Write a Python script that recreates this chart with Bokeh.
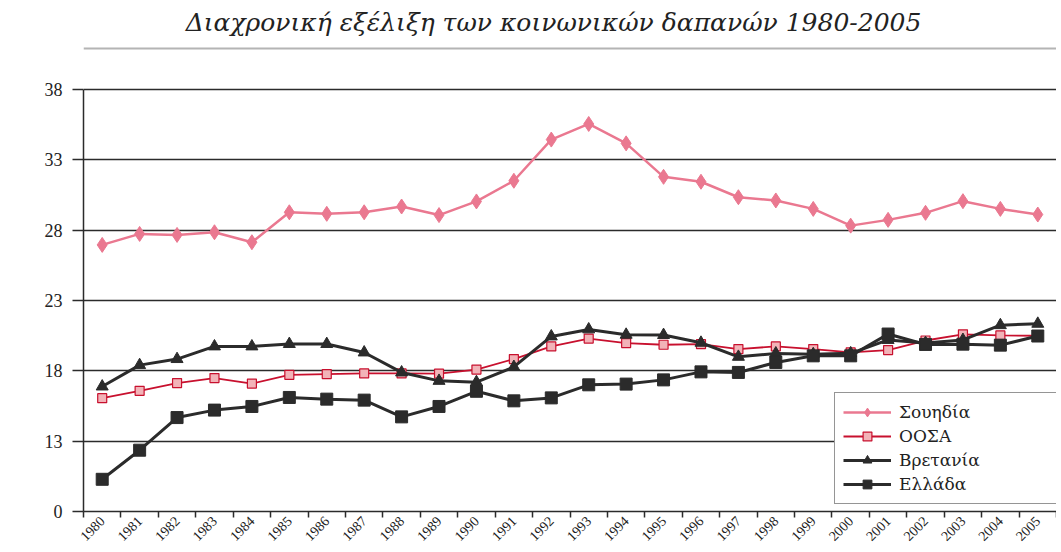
from bokeh.plotting import figure
from bokeh.models import Range1d, FixedTicker, Legend, LegendItem, Label, Span
from bokeh.embed import file_html
from bokeh.resources import INLINE
import math

years = [str(y) for y in range(1980, 2006)]
sweden = [26.96, 27.74, 27.67, 27.86, 27.15, 29.28, 29.17, 29.28, 29.69, 29.08,
          30.05, 31.52, 34.45, 35.56, 34.18, 31.80, 31.45, 30.35, 30.12, 29.52,
          28.33, 28.74, 29.24, 30.07, 29.52, 29.12]
oecd = [16.06, 16.58, 17.13, 17.49, 17.10, 17.72, 17.77, 17.82, 17.82, 17.80,
        18.09, 18.84, 19.74, 20.30, 19.98, 19.86, 19.90, 19.55, 19.74, 19.55,
        19.31, 19.48, 20.16, 20.60, 20.52, 20.50]
britain = [16.89, 18.41, 18.84, 19.74, 19.74, 19.91, 19.91, 19.31, 17.89, 17.29,
           17.20, 18.28, 20.45, 20.95, 20.57, 20.55, 20.00, 19.00, 19.24, 19.19,
           19.25, 20.20, 19.98, 20.20, 21.25, 21.35]
greece = [10.29, 12.36, 14.68, 15.21, 15.47, 16.11, 15.99, 15.92, 14.73, 15.47,
          16.55, 15.87, 16.08, 17.01, 17.06, 17.36, 17.93, 17.89, 18.60, 19.07,
          19.07, 20.62, 19.88, 19.90, 19.83, 20.48]
series_names = ["Σουηδία", "ΟΟΣΑ", "Βρετανία", "Ελλάδα"]
y_ticks = [8, 13, 18, 23, 28, 33, 38]
y_tick_labels = {8: "0"}
title_text = "Διαχρονική εξέλιξη των κοινωνικών δαπανών 1980-2005"

n = len(years)
xs = [i + 0.5 for i in range(n)]
y_min, y_max = y_ticks[0], y_ticks[-1]

SERIF = "'Liberation Serif'"
GSERIF = "'DejaVu Serif'"
DARK = "#2b2b2b"

# frame spans the full height; the extra room above 38 holds the title
Y_TOP = 44.34
p = figure(width=1056, height=548, output_backend="svg", toolbar_location=None,
           x_range=Range1d(0, n), y_range=Range1d(y_min, Y_TOP),
           min_border_left=83, min_border_right=0, min_border_top=0,
           min_border_bottom=0)
p.outline_line_color = None
p.background_fill_color = "white"

title = Label(x=n / 2 - 0.44, y=42.78, text=title_text, text_align="center",
              text_baseline="middle", text_font=GSERIF, text_font_style="italic",
              text_font_size="25px", text_color="#222222")
p.add_layout(title)
p.add_layout(Span(location=40.92, dimension="width", line_color="#b4b4b4",
                  line_width=2))

# x axis
p.xaxis.ticker = FixedTicker(ticks=xs, minor_ticks=list(range(n + 1)))
p.xaxis.major_label_overrides = {x: y for x, y in zip(xs, years)}
p.xaxis.major_label_orientation = math.pi / 4
p.xaxis.major_tick_line_color = None
p.xaxis.major_tick_in = 0
p.xaxis.major_tick_out = 0
p.xaxis.minor_tick_in = 0
p.xaxis.minor_tick_out = 6
p.xaxis.minor_tick_line_color = DARK
p.xaxis.minor_tick_line_width = 1.5
p.xaxis.axis_line_color = DARK
p.xaxis.axis_line_width = 1.5
p.xaxis.major_label_text_font = SERIF
p.xaxis.major_label_text_font_size = "14px"
p.xaxis.major_label_text_color = "#222222"
p.xaxis.major_label_standoff = 1
p.xaxis.axis_label_standoff = 0
p.xgrid.grid_line_color = None

# y axis
p.yaxis.ticker = FixedTicker(ticks=y_ticks)
p.yaxis.bounds = (y_min, y_max)
p.yaxis.major_label_overrides = y_tick_labels
p.yaxis.minor_tick_line_color = None
p.yaxis.major_tick_in = 0
p.yaxis.major_tick_out = 11
p.yaxis.major_tick_line_color = DARK
p.yaxis.major_tick_line_width = 1.5
p.yaxis.axis_line_color = DARK
p.yaxis.axis_line_width = 1.5
p.yaxis.major_label_text_font = SERIF
p.yaxis.major_label_text_font_size = "18px"
p.yaxis.major_label_text_color = "#222222"
p.yaxis.major_label_standoff = 10
p.ygrid.grid_line_color = DARK
p.ygrid.grid_line_width = 1.5

PINK = "#ea7890"
RED = "#c8102e"

l1 = p.line(xs, sweden, line_color=PINK, line_width=2.5)
m1 = p.scatter(xs, sweden, marker="diamond", size=15, fill_color=PINK, line_color=PINK)
l2 = p.line(xs, oecd, line_color=RED, line_width=1.8)
m2 = p.scatter(xs, oecd, marker="square", size=9, fill_color="#f2b3b8", line_color=RED, line_width=1.2)
l3 = p.line(xs, britain, line_color=DARK, line_width=3)
m3 = p.scatter(xs, britain, marker="triangle", size=12, fill_color=DARK, line_color=DARK)
l4 = p.line(xs, greece, line_color=DARK, line_width=3)
m4 = p.scatter(xs, greece, marker="square", size=12, fill_color=DARK, line_color=DARK)

legend = Legend(items=[
    LegendItem(label=series_names[0], renderers=[l1, m1]),
    LegendItem(label=series_names[1], renderers=[l2, m2]),
    LegendItem(label=series_names[2], renderers=[l3, m3]),
    LegendItem(label=series_names[3], renderers=[l4, m4]),
], location=(751, 7))
legend.border_line_color = DARK
legend.border_line_width = 1.5
legend.background_fill_color = "white"
legend.background_fill_alpha = 1
legend.label_text_font = GSERIF
legend.label_text_font_size = "17px"
legend.label_text_color = "#222222"
legend.glyph_width = 48
legend.glyph_height = 22
legend.label_width = 150
legend.spacing = 2
legend.padding = 8
legend.margin = 0
legend.label_standoff = 8
legend.label_height = 22
p.add_layout(legend)

open("out.html", "w").write(file_html(p, INLINE))
